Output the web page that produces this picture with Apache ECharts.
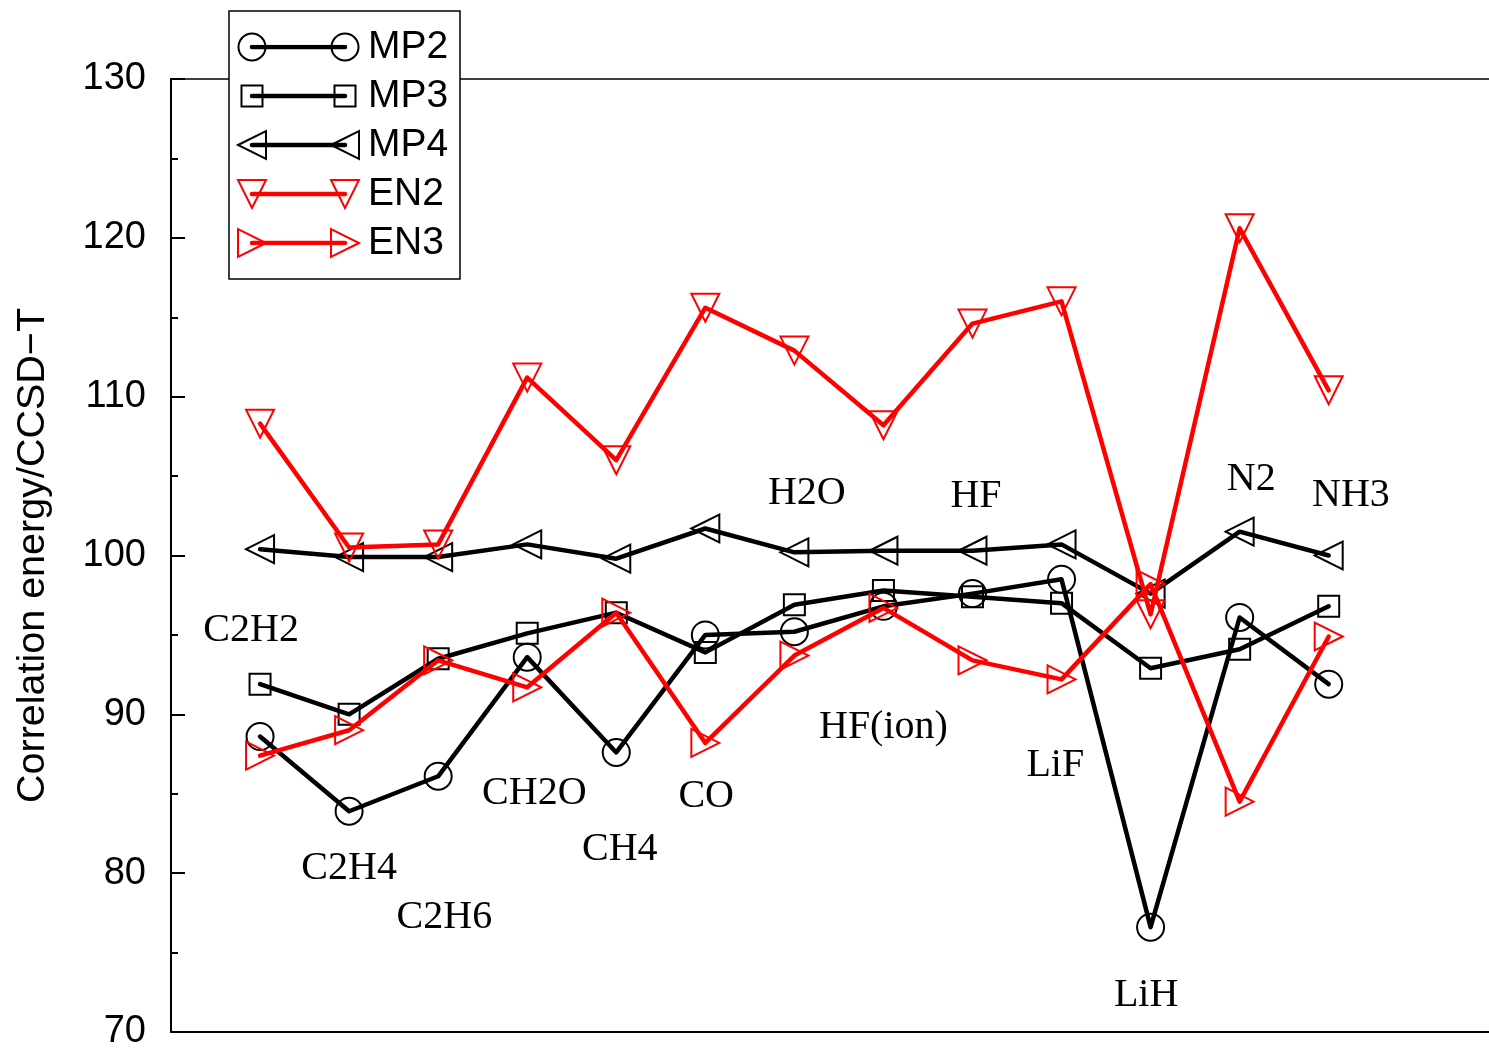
<!DOCTYPE html>
<html>
<head>
<meta charset="utf-8">
<script src="https://cdn.jsdelivr.net/npm/echarts@6/dist/echarts.min.js"></script>
<style>
html,body{margin:0;padding:0;background:#fff;}
#chart{width:1489px;height:1054px;}
</style>
</head>
<body>
<div id="chart"></div>
<script>
// ---- data ----
const categories = ['C2H2','C2H4','C2H6','CH2O','CH4','CO','H2O','HF(ion)','HF','LiF','LiH','N2','NH3'];
const seriesNames = ['MP2','MP3','MP4','EN2','EN3'];
const mp2 = [88.6, 83.9, 86.1, 93.6, 87.6, 95.0, 95.2, 96.8, 97.6, 98.5, 76.6, 96.1, 91.9];
const mp3 = [91.9, 90.0, 93.5, 95.1, 96.4, 93.9, 96.9, 97.8, 97.4, 97.0, 92.9, 94.1, 96.8];
const mp4 = [100.4, 99.9, 99.9, 100.7, 99.8, 101.7, 100.2, 100.3, 100.3, 100.7, 97.6, 101.5, 100.0];
const en2 = [108.3, 100.5, 100.7, 111.2, 106.0, 115.6, 112.9, 108.2, 114.6, 116.0, 96.3, 120.6, 110.4];
const en3 = [87.4, 89.0, 93.4, 91.7, 96.4, 88.2, 93.7, 96.7, 93.4, 92.2, 98.2, 84.5, 94.9];
// annotation label anchor positions (data coords)
const labelX = [0.90, 2.00, 3.07, 4.08, 5.04, 6.01, 7.14, 8.00, 9.04, 9.93, 10.95, 12.13, 13.25];
const labelY = [95.3, 80.3, 77.2, 85.0, 81.5, 84.8, 103.9, 89.2, 103.7, 86.8, 72.3, 104.8, 103.8];
const yTicks = [70, 80, 90, 100, 110, 120, 130];

// ---- styles ----
const styles = [
  {color:'#000000', symbol:'circle', size:27, rotate:0},
  {color:'#000000', symbol:'rect', size:21, rotate:0},
  {color:'#000000', symbol:'triangle', size:28, rotate:90},
  {color:'#ff0000', symbol:'triangle', size:28, rotate:180},
  {color:'#ff0000', symbol:'triangle', size:28, rotate:-90}
];
const allData = [mp2, mp3, mp4, en2, en3];

const series = [];
allData.forEach((arr, s) => {
  const st = styles[s];
  series.push({
    name: seriesNames[s],
    type: 'line',
    xAxisIndex: 0, yAxisIndex: 0,
    data: arr.map((v, i) => [i + 1, v]),
    symbol: st.symbol,
    symbolSize: st.size,
    symbolRotate: st.rotate,
    showAllSymbol: true,
    lineStyle: {color: st.color, width: 4.5, cap: 'round', join: 'round'},
    itemStyle: {color: 'rgba(0,0,0,0)', borderColor: st.color, borderWidth: 2},
    z: 2 + s * 0.1,
    animation: false
  });
  // legend sample
  series.push({
    name: seriesNames[s] + '_legend',
    type: 'line',
    xAxisIndex: 2, yAxisIndex: 1,
    data: [[0, seriesNames[s]], [1, seriesNames[s]]],
    symbol: st.symbol,
    symbolSize: st.size,
    symbolRotate: st.rotate,
    showAllSymbol: true,
    lineStyle: {color: st.color, width: 4.5, cap: 'round'},
    itemStyle: {color: 'rgba(0,0,0,0)', borderColor: st.color, borderWidth: 2},
    z: 10,
    animation: false
  });
});

series.push({
  name: 'labels',
  type: 'scatter',
  xAxisIndex: 0, yAxisIndex: 0,
  data: categories.map((c, i) => ({name: c, value: [labelX[i], labelY[i]]})),
  symbolSize: 1,
  itemStyle: {color: 'rgba(0,0,0,0)', opacity: 1},
  label: {
    show: true, position: 'inside', formatter: '{b}',
    fontFamily: 'Liberation Serif', fontSize: 40, color: '#000000', opacity: 1,
    textBorderWidth: 0, padding: [4, 0, 0, 0]
  },
  emphasis: {disabled: true},
  silent: true,
  animation: false,
  z: 5
});

const chart = echarts.init(document.getElementById('chart'), null, {renderer: 'canvas'});
chart.setOption({
  backgroundColor: '#ffffff',
  animation: false,
  grid: [
    {left: 171, top: 79, right: 0, bottom: 22},
    {left: 252, top: 47, width: 93, height: 196}
  ],
  xAxis: [
    {type: 'value', gridIndex: 0, min: 0, max: 14.8, position: 'bottom',
     axisLine: {show: true, lineStyle: {color: '#000', width: 2}},
     axisTick: {show: false}, axisLabel: {show: false}, splitLine: {show: false}, z: 0},
    {type: 'value', gridIndex: 0, min: 0, max: 14.8, position: 'top',
     axisLine: {show: true, lineStyle: {color: '#000', width: 1.5}},
     axisTick: {show: false}, axisLabel: {show: false}, splitLine: {show: false}, z: 0},
    {type: 'value', gridIndex: 1, min: 0, max: 1, show: false}
  ],
  yAxis: [
    {type: 'value', gridIndex: 0, min: yTicks[0], max: yTicks[yTicks.length - 1], interval: 10,
     name: 'Correlation energy/CCSD\u2212T', nameLocation: 'middle', nameGap: 118,
     nameTextStyle: {fontFamily: 'Liberation Sans', fontSize: 39.5, color: '#000'},
     axisLine: {show: true, lineStyle: {color: '#000', width: 2}},
     axisTick: {show: true, inside: true, length: 14, lineStyle: {color: '#000', width: 2}},
     minorTick: {show: true, splitNumber: 2, length: 7, lineStyle: {color: '#000', width: 2}},
     axisLabel: {fontFamily: 'Liberation Sans', fontSize: 38, color: '#000', margin: 25, padding: [4, 0, 0, 0]},
     splitLine: {show: false}, z: 0},
    {type: 'category', gridIndex: 1, data: seriesNames, inverse: true, boundaryGap: false,
     position: 'right',
     axisLine: {show: false}, axisTick: {show: false}, splitLine: {show: false},
     axisLabel: {interval: 0, fontFamily: 'Liberation Sans', fontSize: 39, color: '#000', margin: 23, align: 'left', padding: [4, 0, 0, 0]},
     z: 8}
  ],
  graphic: [
    {type: 'rect', shape: {x: 229, y: 11, width: 231, height: 268},
     style: {fill: '#ffffff', stroke: '#000000', lineWidth: 1.5}, z: 6}
  ],
  series: series
});
</script>
</body>
</html>
